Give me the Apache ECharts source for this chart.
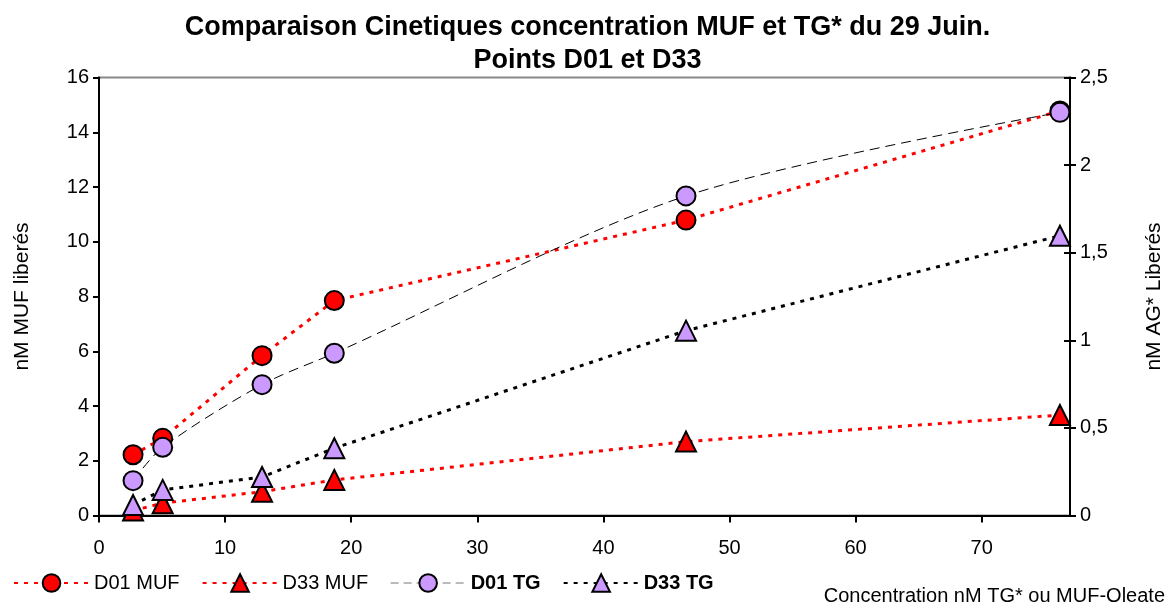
<!DOCTYPE html>
<html>
<head>
<meta charset="utf-8">
<script src="https://cdn.jsdelivr.net/npm/echarts@6/dist/echarts.min.js"></script>
<style>html,body{margin:0;padding:0;background:#fff}#c{width:1175px;height:605px}</style>
</head>
<body>
<div id="c"></div>
<script>
const xConc = [2.7, 5.05, 12.93, 18.66, 46.55, 76.2];
const d01MUF = [2.22, 2.82, 5.84, 7.85, 10.79, 14.78];
const d33MUF = [0.18, 0.45, 0.87, 1.30, 2.70, 3.67];
const d01TG = [0.199, 0.389, 0.747, 0.926, 1.824, 2.301];
const d33TG = [0.06, 0.146, 0.22, 0.384, 1.055, 1.597];
const seriesNames = ['D01 MUF', 'D33 MUF', 'D01 TG', 'D33 TG'];
const titleLines = ['Comparaison Cinetiques concentration MUF et TG* du 29 Juin.', 'Points D01 et D33'];
const leftAxisName = 'nM MUF liberés';
const rightAxisName = 'nM AG* Liberés';
const xAxisName = 'Concentration nM TG* ou MUF-Oleate';

const FONT = 'Liberation Sans, Arial, sans-serif';
const pair = (xs, ys) => xs.map((x, i) => [x, ys[i]]);
const RED = '#FF0000', LAV = '#CC99FF';

const chart = echarts.init(document.getElementById('c'), null, {renderer: 'canvas'});
const mk = (name, data, yIdx, symbol, color, line, smooth) => ({
  name, type: 'line', data, yAxisIndex: yIdx, symbol, symbolSize: symbol === 'triangle' ? 20 : 19,
  smooth: smooth || false,
  itemStyle: {color, borderColor: '#000', borderWidth: 2, opacity: 1},
  lineStyle: line, emphasis: {disabled: true}, animation: false, z: 3
});
const fmtComma = v => String(v).replace('.', ',');

chart.setOption({
  animation: false,
  backgroundColor: '#fff',
  title: {
    text: titleLines.join('\n'), left: 'center', top: 6,
    textStyle: {fontFamily: FONT, fontSize: 27, fontWeight: 'bold', color: '#000', lineHeight: 33}
  },
  grid: {left: 99, right: 105, top: 77.5, bottom: 89.5, show: true, borderColor: '#888', borderWidth: 2, backgroundColor: 'transparent'},
  legend: {
    left: 8, bottom: 7, itemWidth: 75, itemHeight: 22, itemGap: 22,
    textStyle: {fontFamily: FONT, fontSize: 20, color: '#000'},
    data: [
      {name: seriesNames[0]}, {name: seriesNames[1]},
      {name: seriesNames[2], textStyle: {fontWeight: 'bold'}, lineStyle: {width: 1, color: '#777', type: [8, 5]}},
      {name: seriesNames[3], textStyle: {fontWeight: 'bold'}}
    ]
  },
  xAxis: {
    type: 'value', min: 0, max: 77, interval: 10,
    axisLine: {lineStyle: {color: '#000', width: 2}},
    axisTick: {show: true, length: 7, lineStyle: {color: '#000', width: 2}},
    splitLine: {show: false},
    axisLabel: {fontFamily: FONT, fontSize: 20, color: '#000', margin: 23, showMaxLabel: false,
      formatter: v => (v % 10 === 0 ? String(v) : '')}
  },
  yAxis: [
    {
      type: 'value', min: 0, max: 16, interval: 2, position: 'left',
      name: leftAxisName, nameLocation: 'middle', nameGap: 66,
      nameTextStyle: {fontFamily: FONT, fontSize: 21, color: '#000'},
      axisLine: {show: true, lineStyle: {color: '#000', width: 2}},
      axisTick: {show: true, length: 6, lineStyle: {color: '#000', width: 2}},
      splitLine: {show: false},
      axisLabel: {fontFamily: FONT, fontSize: 20, color: '#000', margin: 10}
    },
    {
      type: 'value', min: 0, max: 2.5, interval: 0.5, position: 'right',
      name: rightAxisName, nameLocation: 'middle', nameGap: 74,
      nameTextStyle: {fontFamily: FONT, fontSize: 21, color: '#000'},
      axisLine: {show: true, lineStyle: {color: '#000', width: 2}},
      axisTick: {show: true, length: 6, lineStyle: {color: '#000', width: 2}},
      splitLine: {show: false},
      axisLabel: {fontFamily: FONT, fontSize: 20, color: '#000', margin: 10, formatter: fmtComma}
    },
    {
      type: 'value', min: 0, max: 2.5, interval: 0.5, position: 'right',
      axisLine: {show: false},
      axisTick: {show: true, inside: true, length: 6, lineStyle: {color: '#000', width: 2}},
      splitLine: {show: false}, axisLabel: {show: false}
    }
  ],
  graphic: [{
    type: 'text', right: 10, bottom: -1,
    style: {text: xAxisName, fontFamily: FONT, fontSize: 20, fill: '#000'}
  }],
  series: [
    mk(seriesNames[0], pair(xConc, d01MUF), 0, 'circle', RED, {color: RED, width: 3, type: [4, 6]}),
    mk(seriesNames[1], pair(xConc, d33MUF), 0, 'triangle', RED, {color: RED, width: 3, type: [4, 6]}),
    mk(seriesNames[2], pair(xConc, d01TG), 1, 'circle', LAV, {color: '#000', width: 1, type: [10, 6]}, 0.3),
    mk(seriesNames[3], pair(xConc, d33TG), 1, 'triangle', LAV, {color: '#000', width: 3, type: [4, 6]})
  ]
});
</script>
</body>
</html>
